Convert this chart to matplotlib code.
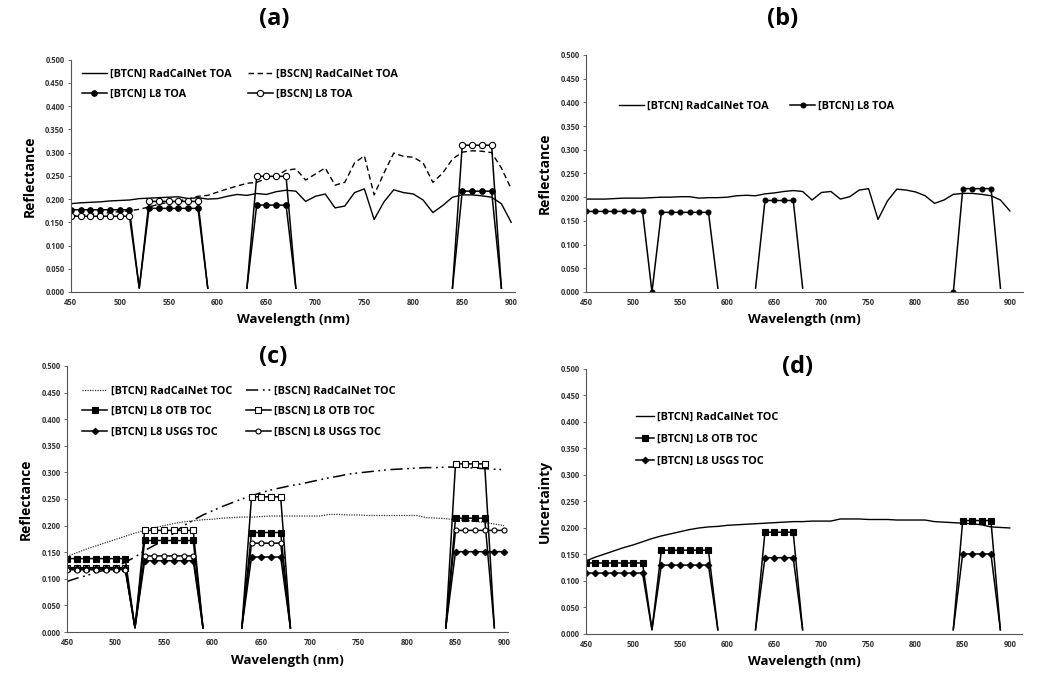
import matplotlib.pyplot as plt
import numpy as np

plt.rcParams['font.family'] = ['Open Sans', 'DejaVu Sans']

wl = np.arange(450, 901, 10)

# L8 OLI band tops (B2, B3, B4, B5) and the drop points between them
band_wl = [[450, 460, 470, 480, 490, 500, 510],
           [530, 540, 550, 560, 570, 580],
           [640, 650, 660, 670],
           [850, 860, 870, 880]]
edge_wl = [520, 590, 630, 680, 840, 890]
edge_lo = [0.008, 0.008, 0.008, 0.008, 0.008, 0.008]
edge_b = [0.0, 0.008, 0.008, 0.008, 0.0, 0.008]

#%% (a) TOA reflectance, both sites
a_btcn_rcn = [0.190, 0.192, 0.193, 0.194, 0.196, 0.197, 0.198, 0.201, 0.202, 0.203,
              0.204, 0.205, 0.201, 0.203, 0.200, 0.201, 0.206, 0.210, 0.208, 0.212,
              0.210, 0.216, 0.219, 0.217, 0.195, 0.206, 0.211, 0.181, 0.185, 0.214,
              0.222, 0.156, 0.194, 0.220, 0.214, 0.211, 0.198, 0.171, 0.186, 0.204,
              0.209, 0.209, 0.207, 0.204, 0.190, 0.150]
a_bscn_rcn = [0.163, 0.165, 0.167, 0.169, 0.171, 0.173, 0.175, 0.178, 0.183, 0.189,
              0.193, 0.196, 0.200, 0.206, 0.208, 0.215, 0.222, 0.228, 0.234, 0.236,
              0.245, 0.250, 0.262, 0.265, 0.241, 0.254, 0.267, 0.230, 0.236, 0.278,
              0.293, 0.209, 0.256, 0.299, 0.292, 0.290, 0.278, 0.236, 0.256, 0.286,
              0.301, 0.304, 0.303, 0.300, 0.267, 0.222]
a_btcn_l8 = [0.177, 0.180, 0.187, 0.217]
a_bscn_l8 = [0.163, 0.195, 0.249, 0.316]

#%% (b) TOA reflectance, BTCN only
b_btcn_rcn = [0.196, 0.196, 0.196, 0.197, 0.198, 0.198, 0.198, 0.199, 0.200, 0.200,
              0.201, 0.201, 0.198, 0.199, 0.199, 0.200, 0.203, 0.204, 0.203, 0.207,
              0.209, 0.212, 0.214, 0.212, 0.194, 0.210, 0.212, 0.196, 0.201, 0.215,
              0.218, 0.153, 0.192, 0.217, 0.215, 0.211, 0.203, 0.187, 0.194, 0.206,
              0.208, 0.208, 0.206, 0.203, 0.194, 0.171]
b_btcn_l8 = [0.170, 0.168, 0.193, 0.218]

#%% (c) TOC reflectance
c_btcn_rcn = [0.142, 0.149, 0.156, 0.162, 0.168, 0.174, 0.180, 0.186, 0.191, 0.196,
              0.200, 0.204, 0.207, 0.209, 0.211, 0.212, 0.214, 0.215, 0.216, 0.216,
              0.217, 0.218, 0.218, 0.218, 0.218, 0.218, 0.218, 0.221, 0.221, 0.220,
              0.220, 0.219, 0.219, 0.219, 0.219, 0.219, 0.219, 0.215, 0.214, 0.213,
              0.211, 0.210, 0.208, 0.206, 0.203, 0.200]
c_bscn_rcn = [0.095, 0.101, 0.106, 0.112, 0.117, 0.123, 0.131, 0.141, 0.153, 0.163,
              0.172, 0.186, 0.200, 0.210, 0.220, 0.228, 0.236, 0.243, 0.250, 0.256,
              0.262, 0.267, 0.271, 0.275, 0.278, 0.282, 0.286, 0.290, 0.293, 0.297,
              0.299, 0.301, 0.303, 0.305, 0.306, 0.307, 0.308, 0.309, 0.309, 0.310,
              0.310, 0.309, 0.308, 0.307, 0.306, 0.305]
c_btcn_otb = [0.138, 0.172, 0.187, 0.214]
c_bscn_otb = [0.121, 0.191, 0.254, 0.316]
c_btcn_usgs = [0.120, 0.134, 0.141, 0.151]
c_bscn_usgs = [0.117, 0.143, 0.167, 0.191]

#%% (d) uncertainty, BTCN
d_btcn_rcn = [0.138, 0.145, 0.151, 0.157, 0.163, 0.168, 0.174, 0.180, 0.185, 0.189,
              0.193, 0.197, 0.200, 0.202, 0.203, 0.205, 0.206, 0.207, 0.208, 0.209,
              0.210, 0.211, 0.212, 0.212, 0.213, 0.213, 0.213, 0.217, 0.217, 0.217,
              0.216, 0.216, 0.216, 0.215, 0.215, 0.215, 0.215, 0.212, 0.211, 0.210,
              0.209, 0.208, 0.206, 0.202, 0.201, 0.200]
d_btcn_otb = [0.134, 0.158, 0.192, 0.214]
d_btcn_usgs = [0.115, 0.130, 0.144, 0.151]


def l8_curve(levels, edges, b5_extra=()):
    y = np.full(wl.shape, np.nan)
    for w, e in zip(edge_wl, edges):
        y[wl == w] = e
    for band, lev in zip(band_wl, levels):
        for w in band:
            y[wl == w] = lev
    for w in b5_extra:
        y[wl == w] = levels[-1]
    return y


def plot_l8(ax, levels, label, marker, filled=True, edges=edge_lo, ms=4, b5_extra=()):
    y = l8_curve(levels, edges, b5_extra)
    mask = list((y > 0.05) | (y == 0))
    ax.plot(wl, y, color='black', lw=1.1, marker=marker, ms=ms, markevery=mask,
            mfc='black' if filled else 'white', mec='black', mew=0.8, label=label)


def style_axes(ax, ylabel, xmax):
    ax.set_xlim(450, xmax)
    ax.set_ylim(0, 0.5)
    ax.set_xticks(np.arange(450, 901, 50))
    ax.set_yticks(np.arange(0, 0.501, 0.05))
    ax.set_yticklabels(['%.3f' % v for v in np.arange(0, 0.501, 0.05)])
    ax.spines['top'].set_visible(False)
    ax.spines['right'].set_visible(False)
    ax.spines['left'].set_color('#555555')
    ax.spines['bottom'].set_color('#555555')
    ax.tick_params(axis='y', length=2.5, width=0.6, color='#555555', labelsize=5.5, pad=2)
    ax.tick_params(axis='x', length=0, labelsize=5.5, pad=4)
    for t in ax.get_xticklabels() + ax.get_yticklabels():
        t.set_fontweight('bold')
        t.set_color('#333333')
    ax.set_ylabel(ylabel, fontsize=10, fontweight='bold', labelpad=6)
    ax.set_xlabel('Wavelength (nm)', fontsize=9.5, fontweight='bold', labelpad=5)


leg_kw = dict(frameon=False, prop={'size': 7.8, 'weight': 'bold'}, handletextpad=0.3,
              borderpad=0, borderaxespad=0, loc='upper left')

fig = plt.figure(figsize=(10.48, 6.79), dpi=100)

# (a)
ax = fig.add_axes([0.0675, 0.570, 0.424, 0.342])
ax.plot(wl, a_btcn_rcn, color='black', lw=1.0, label='[BTCN] RadCalNet TOA')
ax.plot(wl, a_bscn_rcn, color='black', lw=1.0, dashes=(4, 2.5), label='[BSCN] RadCalNet TOA')
plot_l8(ax, a_btcn_l8, '[BTCN] L8 TOA', 'o', True, ms=4)
plot_l8(ax, a_bscn_l8, '[BSCN] L8 TOA', 'o', False, ms=4.5)
style_axes(ax, 'Reflectance', 904)
handles, labels = ax.get_legend_handles_labels()
order = [0, 2, 1, 3]
ax.legend([handles[i] for i in order], [labels[i] for i in order],
          bbox_to_anchor=(0.025, 0.96), ncol=2, handlelength=2.3,
          columnspacing=1.5, labelspacing=0.85, **leg_kw)

# (b)
ax = fig.add_axes([0.5592, 0.570, 0.417, 0.349])
ax.plot(wl, b_btcn_rcn, color='black', lw=1.0, label='[BTCN] RadCalNet TOA')
plot_l8(ax, b_btcn_l8, '[BTCN] L8 TOA', 'o', True, edges=edge_b, ms=3.5)
style_axes(ax, 'Reflectance', 914)
ax.legend(bbox_to_anchor=(0.075, 0.805), ncol=2, handlelength=2.3,
          columnspacing=2.0, **leg_kw)

# (c)
ax = fig.add_axes([0.0639, 0.0692, 0.4208, 0.3918])
ax.plot(wl, c_btcn_rcn, color='#333333', lw=0.9, dashes=(1, 1), label='[BTCN] RadCalNet TOC')
ax.plot(wl, c_bscn_rcn, color='black', lw=1.1, dashes=(8, 3, 1.2, 2.5, 1.2, 3),
        label='[BSCN] RadCalNet TOC')
plot_l8(ax, c_btcn_otb, '[BTCN] L8 OTB TOC', 's', True, ms=3.8)
plot_l8(ax, c_bscn_otb, '[BSCN] L8 OTB TOC', 's', False, ms=3.8)
plot_l8(ax, c_btcn_usgs, '[BTCN] L8 USGS TOC', 'D', True, ms=3.3, b5_extra=(890, 900))
plot_l8(ax, c_bscn_usgs, '[BSCN] L8 USGS TOC', 'o', False, ms=3.6, b5_extra=(890, 900))
style_axes(ax, 'Reflectance', 904)
handles, labels = ax.get_legend_handles_labels()
order = [0, 2, 4, 1, 3, 5]
ax.legend([handles[i] for i in order], [labels[i] for i in order],
          bbox_to_anchor=(0.035, 0.925), ncol=2, handlelength=2.3,
          columnspacing=1.3, labelspacing=0.85, **leg_kw)

# (d)
ax = fig.add_axes([0.5592, 0.0663, 0.416, 0.3903])
ax.plot(wl, d_btcn_rcn, color='black', lw=1.0, label='[BTCN] RadCalNet TOC')
plot_l8(ax, d_btcn_otb, '[BTCN] L8 OTB TOC', 's', True, ms=3.8)
plot_l8(ax, d_btcn_usgs, '[BTCN] L8 USGS TOC', 'D', True, ms=3.3)
style_axes(ax, 'Uncertainty', 913)
ax.legend(bbox_to_anchor=(0.115, 0.84), ncol=1, handlelength=1.6,
          labelspacing=1.05, **leg_kw)

for txt, x, y in [('(a)', 0.262, 0.972), ('(b)', 0.747, 0.972),
                  ('(c)', 0.261, 0.474), ('(d)', 0.761, 0.459)]:
    fig.text(x, y, txt, fontsize=17, fontweight='bold', ha='center', va='center')

fig.savefig('out.png', dpi=100)
